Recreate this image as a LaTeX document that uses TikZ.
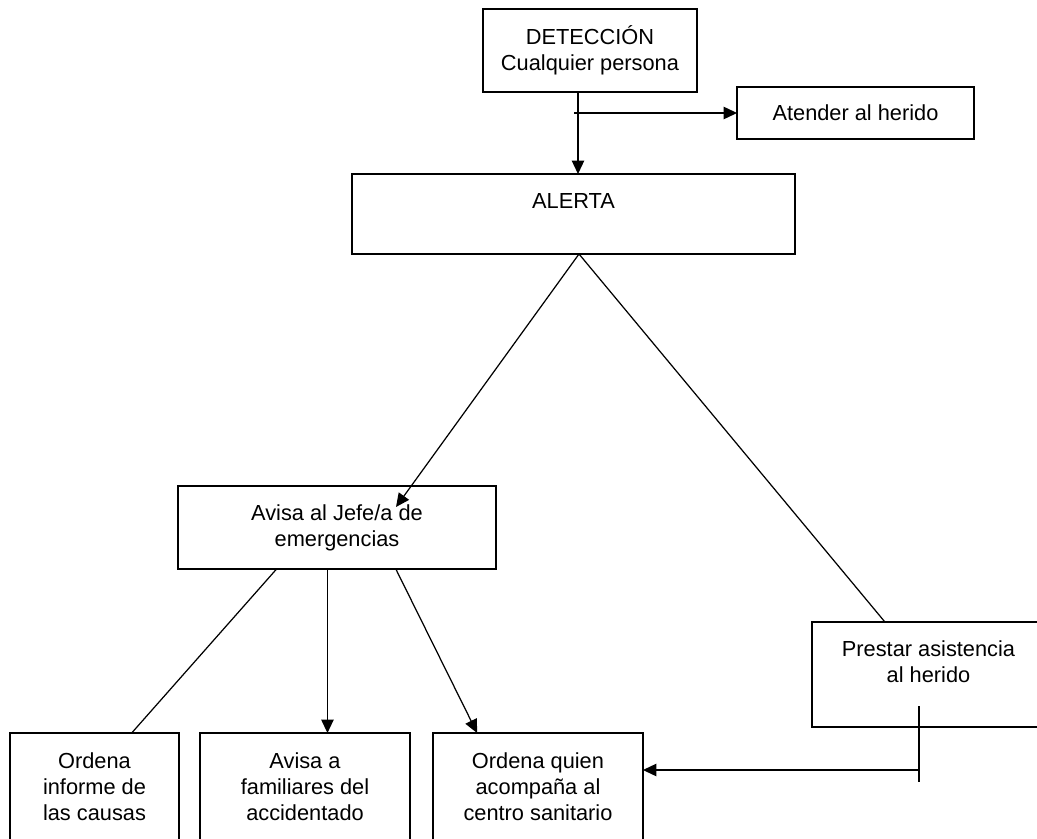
\documentclass[tikz,border=0pt]{standalone}
\usepackage{fontspec}
\setmainfont{Liberation Sans}
\usetikzlibrary{arrows.meta, calc}

\begin{document}
\begin{tikzpicture}[
  x=0.02cm, y=-0.02cm,
  font=\fontsize{12.4}{14.8}\selectfont,
  box/.style  = {draw, line width=0.8pt, align=center, inner sep=0pt, outer sep=0pt},
  link/.style = {draw, line width=0.7pt},
  arr/.style  = {draw, line width=0.7pt, -{Triangle[length=0.27cm, width=0.25cm]}},
]
\useasboundingbox (0,0) rectangle (1037,838);

% =============== top: detection and alert ===============
\node[box, minimum width=4.28cm, minimum height=1.66cm] (det) at (590,50.5)
  {DETECCIÓN\\Cualquier persona};
\node[box, minimum width=4.74cm, minimum height=1.04cm] (aten) at (855.5,113)
  {Atender al herido};
\node[box, minimum width=8.86cm, minimum height=1.60cm] (alerta) at (573.5,214)
  {ALERTA\\\mbox{}};

\coordinate (fork) at (574,113);
\draw[arr] (det.south -| 578,0) -- (alerta.north -| 578,0);
\draw[arr] (fork) -- (aten.west);

% =============== middle: the two branches ===============
\node[box, minimum width=6.36cm, minimum height=1.66cm] (jefe) at (337,527.5)
  {Avisa al Jefe/a de\\emergencias};
\node[box, minimum width=4.66cm, minimum height=2.10cm] (prestar) at (928.5,674.5)
  {Prestar asistencia\\al herido\\\mbox{}};

\coordinate (apex) at (579,254);
\coordinate (jefein) at (396,507);
\draw[arr] (apex) -- (jefein);
\draw[link] (apex) -- ($(prestar.north west)!0.313!(prestar.north east)$);

% =============== bottom row ===============
\node[box, minimum width=3.38cm, minimum height=2.14cm] (ordena) at (94.5,786.5)
  {Ordena\\informe de\\las causas};
\node[box, minimum width=4.20cm, minimum height=2.14cm] (fam) at (305,786.5)
  {Avisa a\\familiares del\\accidentado};
\node[box, minimum width=4.20cm, minimum height=2.14cm] (quien) at (538,786.5)
  {Ordena quien\\acompaña al\\centro sanitario};

\draw[link] ($(jefe.south west)!0.31!(jefe.south east)$)
  -- ($(ordena.north west)!0.72!(ordena.north east)$);
\coordinate (jmid) at ($(jefe.south west)!0.47!(jefe.south east)$);
\draw[arr] (jmid) -- (jmid |- fam.north);
\draw[arr] ($(jefe.south west)!0.685!(jefe.south east)$)
  -- ($(quien.north west)!0.21!(quien.north east)$);

% return from assistance to the escort box
\coordinate (ptop) at (919,706);
\coordinate (pbot) at (919,782);
\coordinate (pknee) at (919,770);
\draw[link] (ptop) -- (pbot);
\draw[arr] (pknee) -- (pknee -| quien.east);

\end{tikzpicture}
\end{document}
